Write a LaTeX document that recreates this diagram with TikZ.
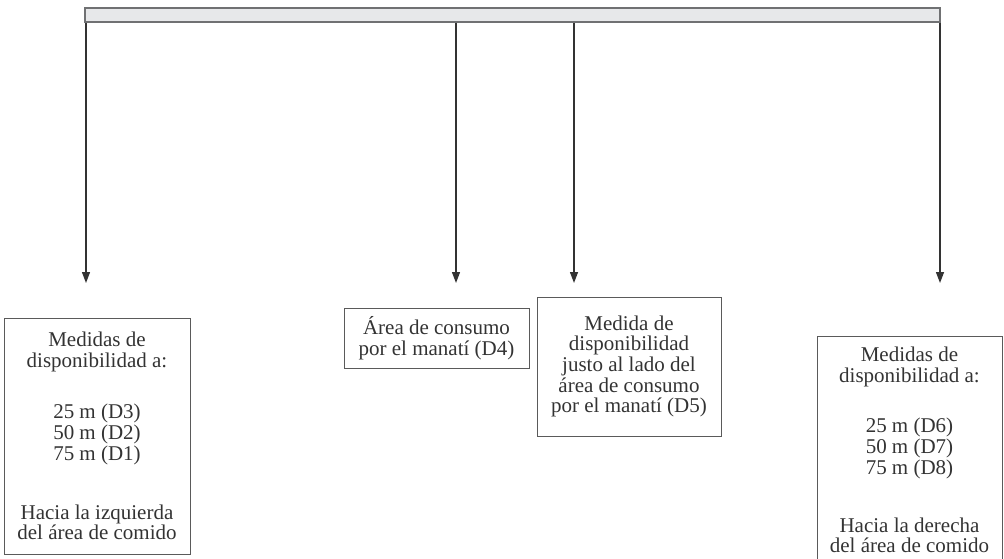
\documentclass[tikz,border=0pt]{standalone}
\usepackage{fontspec}
\setmainfont{Liberation Serif}
\usetikzlibrary{arrows.meta}

\definecolor{bargray}{HTML}{E7E8EA}
\definecolor{bardark}{HTML}{707173}
\definecolor{boxgray}{HTML}{5A5A5A}
\definecolor{textgray}{HTML}{333333}

\begin{document}
\begin{tikzpicture}[x=1pt, y=-1pt]
      \tikzstyle{every node}=[draw=boxgray, line width=1pt, text=textgray, align=center, inner sep=0pt,
        font=\fontsize{21}{20.7}\selectfont]
      \useasboundingbox (0,0) rectangle (1004,559);

      \path (512.5,15) node [fill=bargray, draw=bardark, line width=1.6pt,
        minimum width=855pt, minimum height=14pt] (bar) {};

      \foreach \i/\x in {1/86, 2/456, 3/574, 4/940}
      {
        \coordinate (t\i) at (\x, 283);
      }

      \path (97,436) node [minimum width=186pt, minimum height=236pt] (izq)
        {Medidas de\\ disponibilidad a:\\[31pt] 25 m (D3)\\ 50 m (D2)\\ 75 m (D1)\\[38pt]
         Hacia la izquierda\\ del área de comido};
      \path (436.5,338) node [minimum width=185pt, minimum height=60pt] (d4)
        {Área de consumo\\ por el manatí (D4)};
      \path (629,366.5) node [minimum width=184pt, minimum height=139pt] (d5)
        {Medida de\\ disponibilidad\\ justo al lado del\\ área de consumo\\ por el manatí (D5)};
      \path (909.5,450) node [minimum width=185pt, minimum height=228pt] (der)
        {Medidas de\\ disponibilidad a:\\[30pt] 25 m (D6)\\ 50 m (D7)\\ 75 m (D8)\\[37pt]
         Hacia la derecha\\ del área de comido};

      \foreach \i in {1, ..., 4}
      {
        \draw [-{Triangle[length=11pt, width=8pt]}, line width=1.3pt, draw=textgray, fill=textgray]
          (bar.south -| t\i) -- (t\i);
      }
    \end{tikzpicture}
\end{document}
